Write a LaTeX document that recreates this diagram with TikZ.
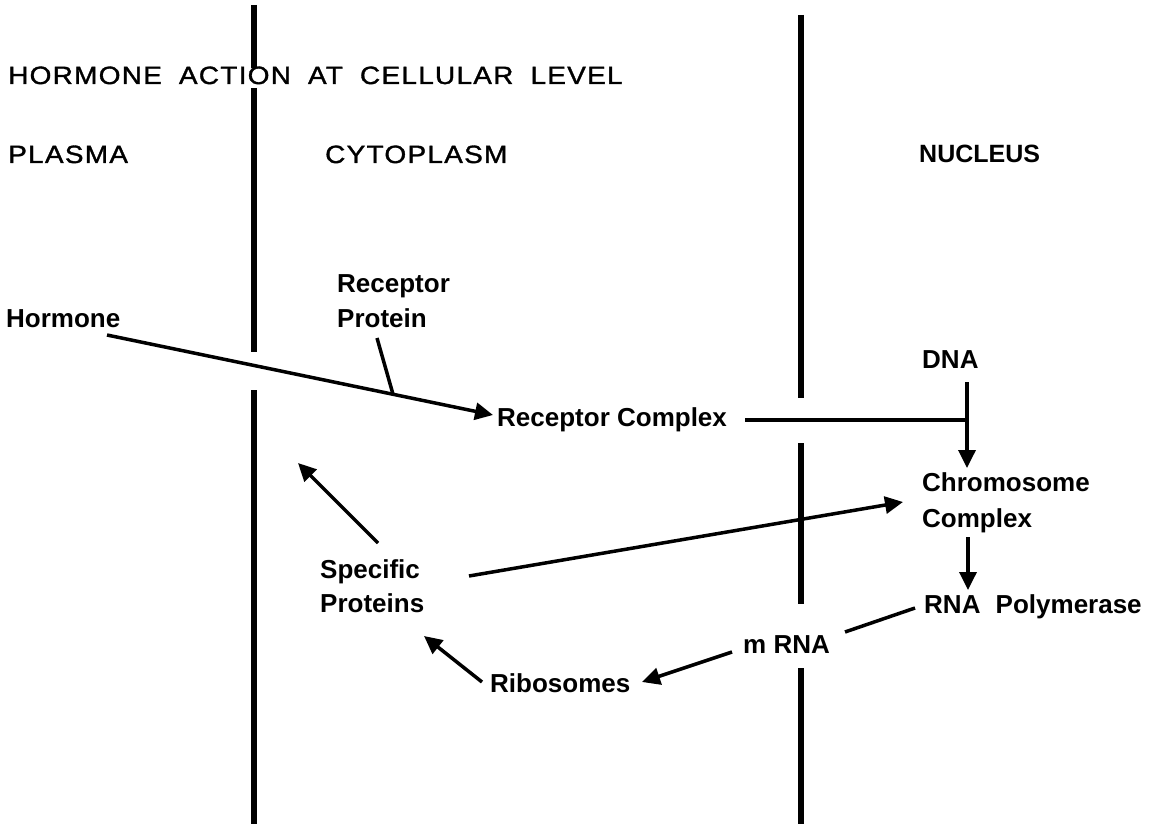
\documentclass[tikz,border=0pt]{standalone}
\usepackage{fontspec}
\setmainfont{Liberation Sans}
\newfontfamily\titlef{Liberation Sans}[LetterSpace=5,FakeStretch=1.12,FakeBold=1.3]
\usetikzlibrary{arrows.meta,calc}
\begin{document}
\begin{tikzpicture}[x=1pt,y=-1pt,
  wall/.style={line width=6pt},
  conn/.style={line width=3.5pt},
  arr/.style={conn,-{Triangle[length=18pt,width=17pt]}},
  lbl/.style={anchor=base west,inner sep=0pt,font=\fontsize{26}{30}\selectfont\bfseries},
  hdr/.style={anchor=base west,inner sep=0pt,font=\fontsize{25}{30}\selectfont\titlef}]
\useasboundingbox (0,0) rectangle (1151,824);
\fill[white] (0,0) rectangle (1151,824);

% membranes
\draw[wall] (254,5) -- (254,68) (254,88) -- (254,352) (254,390) -- (254,824);
\draw[wall] (801,15) -- (801,398) (801,443) -- (801,604) (801,668) -- (801,824);

% headings
\node[hdr] (title) at (8,84) {HORMONE\hspace{8pt} ACTION\hspace{8pt} AT\hspace{8pt} CELLULAR\hspace{8pt} LEVEL};
\node[hdr] (plasma) at (8,163) {PLASMA};
\node[hdr] (cyto) at (325,163) {CYTOPLASM};
\node[lbl,font=\fontsize{25}{30}\selectfont\bfseries] (nucleus) at (919,163) {NUCLEUS};

% labels
\node[lbl] (hormone) at (6,327) {Hormone};
\node[lbl] (rp1) at (337,292) {Receptor};
\node[lbl] (rp2) at (337,327) {Protein};
\node[lbl] (dna) at (922,368) {DNA};
\node[lbl] (rc) at (497,426) {Receptor Complex};
\node[lbl] (cc1) at (922,491) {Chromosome};
\node[lbl] (cc2) at (922,527) {Complex};
\node[lbl] (sp1) at (320,578) {Specific};
\node[lbl] (sp2) at (320,612) {Proteins};
\node[lbl] (rnap) at (924,613) {RNA\hspace{8pt} Polymerase};
\node[lbl] (mrna) at (743,653) {m RNA};
\node[lbl] (ribo) at (490,692) {Ribosomes};

% connectors
\coordinate (htail) at ($(hormone.base west)+(101,8)$);
\coordinate (rchead) at ($(rc.base west)+(-4,-11)$);
\draw[arr] (htail) -- (rchead);
\draw[conn] ($(rp2.base west)+(40,11)$) -- ($(htail)!0.741!(rchead)$);

\coordinate (dnatop) at ($(dna.base west)+(45,14)$);
\coordinate (chtip) at ($(cc1.base west)+(45,-23)$);
\draw[arr] (dnatop) -- (chtip);
\coordinate (rcl) at ($(rc.base west)+(248,-6)$);
\draw[conn] (rcl) -- (rcl -| dnatop);

\draw[arr] ($(cc2.base west)+(46,10)$) -- ($(rnap.base west)+(44,-23)$);
\draw[arr] ($(sp1.base west)+(149,-2)$) -- ($(cc1.base west)+(-19,11)$);
\coordinate (cytopl) at (298,463);
\draw[arr] ($(sp1.base west)+(58,-35)$) -- (cytopl);
\draw[arr] ($(ribo.base west)+(-8,-10)$) -- ($(sp2.base west)+(104,24)$);
\draw[conn] ($(rnap.base west)+(-9,-5)$) -- ($(mrna.base west)+(102,-21)$);
\draw[arr] ($(mrna.base west)+(-11,-1)$) -- ($(ribo.base west)+(152,-10)$);
\end{tikzpicture}
\end{document}
